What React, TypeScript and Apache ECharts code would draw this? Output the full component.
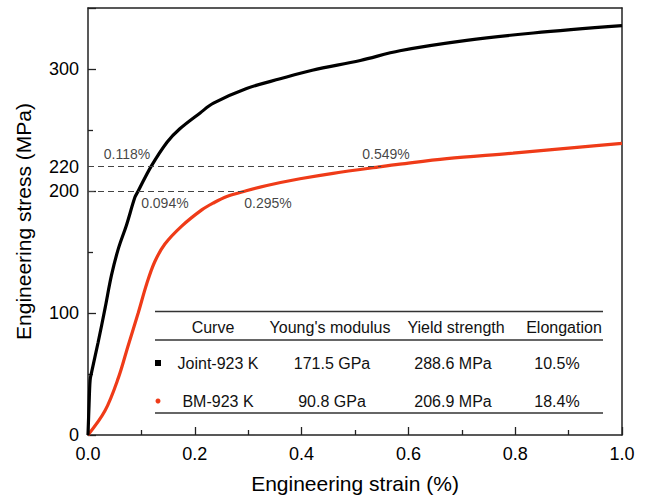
import React, { useEffect, useRef } from "react";
import * as echarts from "echarts";

// Stress–strain curves: [engineering strain (%), engineering stress (MPa)]
const jointCurve: [number, number][] = [
  [0, 0], [0.002, 25], [0.004, 45], [0.007, 52], [0.019, 76], [0.032, 104],
  [0.044, 131], [0.057, 153], [0.072, 172], [0.088, 195], [0.094, 200],
  [0.118, 220], [0.148, 240], [0.172, 251], [0.21, 264], [0.235, 272],
  [0.297, 284], [0.36, 292], [0.42, 299], [0.51, 307], [0.584, 315],
  [0.709, 323.5], [0.834, 329.5], [1.0, 335.5],
];
const bmCurve: [number, number][] = [
  [0, 0], [0.032, 20], [0.057, 47], [0.075, 73], [0.094, 100], [0.11, 124],
  [0.125, 142], [0.144, 156.5], [0.175, 171], [0.213, 184.5], [0.234, 190],
  [0.26, 195.5], [0.295, 200], [0.335, 204.5], [0.397, 210], [0.459, 214.5],
  [0.549, 220], [0.584, 222], [0.672, 226.5], [0.796, 231], [0.921, 236],
  [1.0, 239],
];

// Reference stress levels and the strains where they are reached
const refStress200 = 200;
const refStress220 = 220;
const strainAt200 = 0.295;
const strainAt220 = 0.549;

// Strain annotations: [strain, stress, text]
const annotations: [number, number, string][] = [
  [0.073, 230.3, "0.118%"],
  [0.144, 190.2, "0.094%"],
  [0.337, 190.2, "0.295%"],
  [0.558, 230.3, "0.549%"],
];

const yLabelValues = [0, 100, 200, 220, 300];

// Property table
const tableHeaders = ["Curve", "Young's modulus", "Yield strength", "Elongation"];
const seriesNames = ["Joint-923 K", "BM-923 K"];
const youngsModulus = ["171.5 GPa", "90.8 GPa"];
const yieldStrength = ["288.6 MPa", "206.9 MPa"];
const elongation = ["10.5%", "18.4%"];

const BLACK = "#000000";
const RED = "#ef3b18";
const FONT = "'Liberation Sans', Arial, Helvetica, sans-serif";

export default function App() {
  const ref = useRef<HTMLDivElement>(null);

  useEffect(() => {
    document.body.style.margin = "0";
    if (!ref.current) return;
    const chart = echarts.init(ref.current, undefined, { renderer: "svg" });

    const headerX = [213, 330, 456, 564];
    const valueX = [218, 332, 453, 557];
    const rowY = [363, 401];
    const tableFont = `16px ${FONT}`;
    const tableLeft = 155;
    const tableRight = 603;

    const tableText = (text: string, x: number, y: number) => ({
      type: "text",
      x,
      y,
      silent: true,
      style: {
        text,
        fill: "#111",
        font: tableFont,
        align: "center",
        verticalAlign: "middle",
      },
    });
    const hLine = (y: number) => ({
      type: "line",
      silent: true,
      shape: { x1: tableLeft, y1: y, x2: tableRight, y2: y },
      style: { stroke: "#333", lineWidth: 1.3 },
    });

    const graphics: any[] = [hLine(311.5), hLine(340), hLine(413)];
    tableHeaders.forEach((h, i) => graphics.push(tableText(h, headerX[i], 327.5)));
    seriesNames.forEach((name, r) => {
      graphics.push(tableText(name, valueX[0], rowY[r]));
      graphics.push(tableText(youngsModulus[r], valueX[1], rowY[r]));
      graphics.push(tableText(yieldStrength[r], valueX[2], rowY[r]));
      graphics.push(tableText(elongation[r], valueX[3], rowY[r]));
    });
    // Series markers in the table
    graphics.push({
      type: "rect",
      silent: true,
      shape: { x: 155, y: rowY[0] - 3, width: 6, height: 6 },
      style: { fill: BLACK },
    });
    graphics.push({
      type: "circle",
      silent: true,
      shape: { cx: 158, cy: rowY[1], r: 2.5 },
      style: { fill: RED },
    });

    const dashStyle = { color: "#444", width: 1, type: [6, 4] as any };

    chart.setOption({
      animation: false,
      backgroundColor: "#ffffff",
      textStyle: { fontFamily: FONT },
      grid: { left: 88, right: 24, top: 8, bottom: 68, containLabel: false },
      xAxis: [
        {
          type: "value",
          min: 0,
          max: 1,
          interval: 0.2,
          name: "Engineering strain (%)",
          nameLocation: "middle",
          nameGap: 38,
          nameTextStyle: { fontSize: 21, color: BLACK, fontFamily: FONT },
          axisLine: { show: true, onZero: false, lineStyle: { color: "#222", width: 1.5 } },
          axisTick: { show: true, inside: true, length: 8, lineStyle: { color: "#222", width: 1.3 } },
          minorTick: { show: true, splitNumber: 2, length: 5, lineStyle: { color: "#222", width: 1.3 } },
          splitLine: { show: false },
          axisLabel: {
            fontSize: 18,
            color: BLACK,
            margin: 10,
            fontFamily: FONT,
            formatter: (v: number) => v.toFixed(1),
          },
        },
        {
          type: "value",
          position: "top",
          min: 0,
          max: 1,
          axisLine: { show: true, onZero: false, lineStyle: { color: "#222", width: 1.5 } },
          axisTick: { show: false },
          axisLabel: { show: false },
          splitLine: { show: false },
        },
      ],
      yAxis: [
        {
          type: "value",
          min: 0,
          max: 350,
          interval: 100,
          name: "Engineering stress (MPa)",
          nameLocation: "middle",
          nameGap: 54,
          nameTextStyle: { fontSize: 21, color: BLACK, fontFamily: FONT },
          axisLine: { show: true, onZero: false, lineStyle: { color: "#222", width: 1.5 } },
          axisTick: { show: true, inside: true, length: 8, lineStyle: { color: "#222", width: 1.3 } },
          minorTick: { show: true, splitNumber: 2, length: 5, lineStyle: { color: "#222", width: 1.3 } },
          splitLine: { show: false },
          axisLabel: {
            fontSize: 18,
            color: BLACK,
            margin: 9,
            fontFamily: FONT,
            customValues: yLabelValues,
          },
        },
        {
          type: "value",
          position: "right",
          min: 0,
          max: 350,
          axisLine: { show: true, onZero: false, lineStyle: { color: "#222", width: 1.5 } },
          axisTick: { show: false },
          axisLabel: { show: false },
          splitLine: { show: false },
        },
      ],
      series: [
        {
          type: "line",
          name: "BM-923 K",
          data: bmCurve,
          smooth: 0.35,
          showSymbol: false,
          lineStyle: { color: RED, width: 3.2 },
          z: 3,
          markLine: {
            silent: true,
            symbol: "none",
            label: { show: false },
            lineStyle: dashStyle,
            data: [
              [{ coord: [0, refStress200] }, { coord: [strainAt200, refStress200] }],
              [{ coord: [0, refStress220] }, { coord: [strainAt220, refStress220] }],
            ],
          },
        },
        {
          type: "line",
          name: "Joint-923 K",
          data: jointCurve,
          smooth: 0.35,
          showSymbol: false,
          lineStyle: { color: BLACK, width: 3.2 },
          z: 4,
        },
        {
          type: "scatter",
          silent: true,
          symbolSize: 0,
          data: annotations.map(([x, y, t]) => ({ value: [x, y], name: t })),
          label: {
            show: true,
            position: "inside",
            formatter: "{b}",
            fontSize: 14,
            color: "#111",
            fontFamily: FONT,
          },
          z: 5,
        },
      ],
      graphic: graphics,
    });

    return () => chart.dispose();
  }, []);

  return <div ref={ref} style={{ width: 646, height: 503 }} />;
}
